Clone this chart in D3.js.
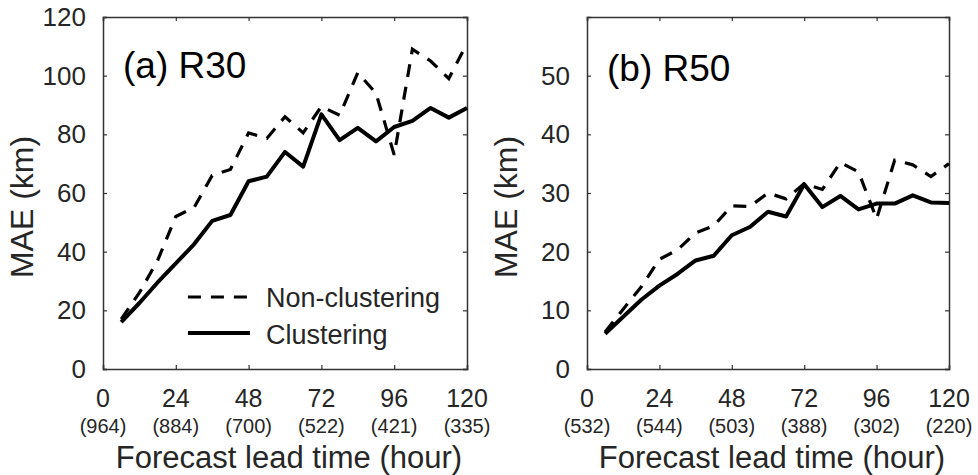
<!DOCTYPE html>
<html>
<head>
<meta charset="utf-8">
<script src="https://cdn.jsdelivr.net/npm/d3@7"></script>
<style>
body { margin: 0; background: #fff; }
text { font-family: "Liberation Sans", Arial, sans-serif; fill: #262626; }
</style>
</head>
<body>
<div id="chart"></div>
<script>
//Lead times of every point (hour)
var hours = [6, 12, 18, 24, 30, 36, 42, 48, 54, 60, 66, 72, 78, 84, 90, 96, 102, 108, 114, 120];

//R30 errors (km)
var r30NonClustering = [17, 26, 37, 52, 55, 66, 68, 80.5, 78.6, 86, 80.5, 89.5, 86.5, 101, 94, 73, 109, 105, 99, 111];
var r30Clustering = [16, 22.5, 29.5, 36, 42.5, 50.5, 52.5, 64, 65.6, 74, 69, 86.8, 78, 82.2, 77.6, 82.5, 84.6, 89, 85.7, 89];

//R50 errors (km)
var r50NonClustering = [6.3, 10.2, 14, 18.7, 20.3, 23.2, 24.4, 27.8, 27.7, 30, 29, 31.6, 30.6, 35.2, 33.6, 25.6, 35.6, 34.8, 32.8, 35];
var r50Clustering = [6, 8.9, 11.8, 14.2, 16.2, 18.5, 19.3, 22.8, 24.2, 26.8, 26, 31.5, 27.6, 29.5, 27.2, 28.2, 28.2, 29.6, 28.4, 28.3];

//Tick labels
var xTicks = [0, 24, 48, 72, 96, 120];
var r30Counts = ["(964)", "(884)", "(700)", "(522)", "(421)", "(335)"];
var r50Counts = ["(532)", "(544)", "(503)", "(388)", "(302)", "(220)"];
var r30Ticks = [0, 20, 40, 60, 80, 100, 120];
var r50Ticks = [0, 10, 20, 30, 40, 50];

var w = 978;
var h = 475;

var svg = d3.select("#chart")
            .append("svg")
            .attr("width", w)
            .attr("height", h);

//Draws one panel
function panel(left, right, yMax, yTicks, counts, nonClus, clus, title, titleY, showLegend)
{
    var top = 17;
    var bottom = 369;

    var xscale = d3.scaleLinear()
                    .domain([0, 120])
                    .range([left, right]);

    var yscale = d3.scaleLinear()
                    .domain([0, yMax])
                    .range([bottom, top]);

    var g = svg.append("g");

    //inward ticks on all four sides (MATLAB box style)
    var xaxisB = d3.axisBottom(xscale).tickValues(xTicks).tickSize(-4).tickFormat("");
    var xaxisT = d3.axisTop(xscale).tickValues(xTicks).tickSize(-4).tickFormat("");
    var yaxisL = d3.axisLeft(yscale).tickValues(yTicks).tickSize(-4).tickFormat("");
    var yaxisR = d3.axisRight(yscale).tickValues(yTicks).tickSize(-4).tickFormat("");

    g.append("g").attr("transform", "translate(0," + bottom + ")").call(xaxisB);
    g.append("g").attr("transform", "translate(0," + top + ")").call(xaxisT);
    g.append("g").attr("transform", "translate(" + left + ",0)").call(yaxisL);
    g.append("g").attr("transform", "translate(" + right + ",0)").call(yaxisR);

    g.selectAll(".domain").attr("stroke", "#333").attr("stroke-width", 1.5);
    g.selectAll(".tick line").attr("stroke", "#333").attr("stroke-width", 1.2);

    //y tick labels
    g.selectAll(".ylab")
        .data(yTicks)
        .enter()
        .append("text")
        .attr("x", left - 17)
        .attr("y", d => yscale(d) + 9)
        .attr("text-anchor", "end")
        .style("font-size", "26px")
        .text(d => d);

    //x tick labels and sample counts
    g.selectAll(".xlab")
        .data(xTicks)
        .enter()
        .append("text")
        .attr("x", d => xscale(d))
        .attr("y", 407)
        .attr("text-anchor", "middle")
        .style("font-size", "25px")
        .text(d => d);

    g.selectAll(".cnt")
        .data(counts)
        .enter()
        .append("text")
        .attr("x", (d, i) => xscale(xTicks[i]))
        .attr("y", 433)
        .attr("text-anchor", "middle")
        .style("font-size", "20px")
        .text(d => d);

    //axis titles
    g.append("text")
        .attr("x", (left + right) / 2 + 4)
        .attr("y", 468)
        .attr("text-anchor", "middle")
        .style("font-size", "31px")
        .text("Forecast lead time (hour)");

    g.append("text")
        .attr("transform", "translate(" + (left - 70) + ",207) rotate(-90)")
        .attr("text-anchor", "middle")
        .style("font-size", "32px")
        .text("MAE (km)");

    //panel title
    g.append("text")
        .attr("x", left + 20)
        .attr("y", titleY)
        .style("font-size", "37px")
        .style("fill", "#000")
        .text(title);

    var line = d3.line()
                .x((d, i) => xscale(hours[i]))
                .y(d => yscale(d));

    g.append("path")
        .datum(nonClus)
        .attr("d", line)
        .attr("fill", "none")
        .attr("stroke", "#000")
        .attr("stroke-width", 3.2)
        .attr("stroke-dasharray", "13,10");

    g.append("path")
        .datum(clus)
        .attr("d", line)
        .attr("fill", "none")
        .attr("stroke", "#000")
        .attr("stroke-width", 4)
        .attr("stroke-linejoin", "round");

    if (showLegend)
    {
        var lx = xscale(28);
        g.append("line")
            .attr("x1", lx).attr("x2", lx + 62)
            .attr("y1", 297).attr("y2", 297)
            .attr("stroke", "#000").attr("stroke-width", 3.2)
            .attr("stroke-dasharray", "13,10");
        g.append("line")
            .attr("x1", lx).attr("x2", lx + 62)
            .attr("y1", 333).attr("y2", 333)
            .attr("stroke", "#000").attr("stroke-width", 4);
        g.append("text")
            .attr("x", lx + 78).attr("y", 307)
            .style("font-size", "27px")
            .text("Non-clustering");
        g.append("text")
            .attr("x", lx + 78).attr("y", 344)
            .style("font-size", "27px")
            .text("Clustering");
    }
}

panel(103, 467, 120, r30Ticks, r30Counts, r30NonClustering, r30Clustering, "(a) R30", 78, true);
panel(587, 949, 60, r50Ticks, r50Counts, r50NonClustering, r50Clustering, "(b) R50", 81, false);
</script>
</body>
</html>
